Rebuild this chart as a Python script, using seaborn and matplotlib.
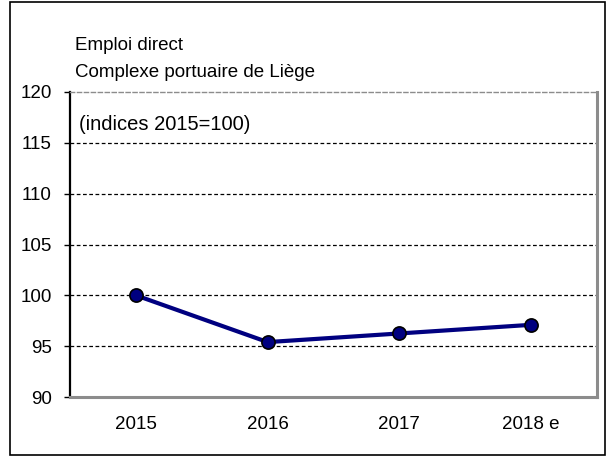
import matplotlib
matplotlib.use("Agg")
import matplotlib.pyplot as plt
import seaborn as sns
import pandas as pd
from matplotlib.patches import Rectangle

years = ["2015", "2016", "2017", "2018 e"]
emploi = [100.0, 95.4, 96.25, 97.1]
yticks = [90, 95, 100, 105, 110, 115, 120]

sns.set_style("white")
plt.rcParams["font.family"] = ["Liberation Sans", "DejaVu Sans"]
plt.rcParams["text.color"] = "black"
plt.rcParams["xtick.color"] = "black"
plt.rcParams["ytick.color"] = "black"

df = pd.DataFrame({"annee": years, "indice": emploi})

fig = plt.figure(figsize=(6.07, 4.57), dpi=100)
ax = fig.add_axes([70 / 607, 1 - 397 / 457, 527 / 607, 305 / 457])

# outer frame of the chart
fig.patches.append(Rectangle((10 / 607, 2 / 457), 595 / 607, 453 / 457,
                             transform=fig.transFigure, fill=False,
                             edgecolor="black", linewidth=1.2))

for y in yticks[1:-1]:
    ax.axhline(y, color="black", linestyle=(0, (3, 2)), linewidth=0.9, zorder=1)

sns.lineplot(data=df, x="annee", y="indice", ax=ax, color="#000080",
             linewidth=3.0, marker="o", markersize=9.5,
             markerfacecolor="#000080", markeredgecolor="black",
             markeredgewidth=1.2, zorder=3)

ax.set_xlim(-0.5, 3.5)
ax.set_ylim(90, 120)
ax.set_yticks(yticks)
ax.set_xlabel("")
ax.set_ylabel("")

for side in ["top", "right", "bottom"]:
    ax.spines[side].set_color("#8c8c8c")
    ax.spines[side].set_linewidth(2.2)
ax.spines["top"].set_linestyle((0, (3, 2)))
ax.spines["top"].set_linewidth(1.0)
ax.spines["left"].set_color("black")
ax.spines["left"].set_linewidth(1.6)

ax.tick_params(axis="y", direction="out", length=4, width=1,
               labelsize=13.5, pad=9, left=True)
ax.tick_params(axis="x", length=0, labelsize=13.5, pad=14)

ax.text((79 - 70) / 527, 1 - (130 - 92) / 305, "(indices 2015=100)",
        transform=ax.transAxes, fontsize=14.5, va="baseline", ha="left")

fig.text(75 / 607, 1 - 50 / 457, "Emploi direct", fontsize=13.5,
         va="baseline", ha="left")
fig.text(75 / 607, 1 - 77 / 457, "Complexe portuaire de Liège", fontsize=13.5,
         va="baseline", ha="left")

fig.savefig("out.png", dpi=100)
